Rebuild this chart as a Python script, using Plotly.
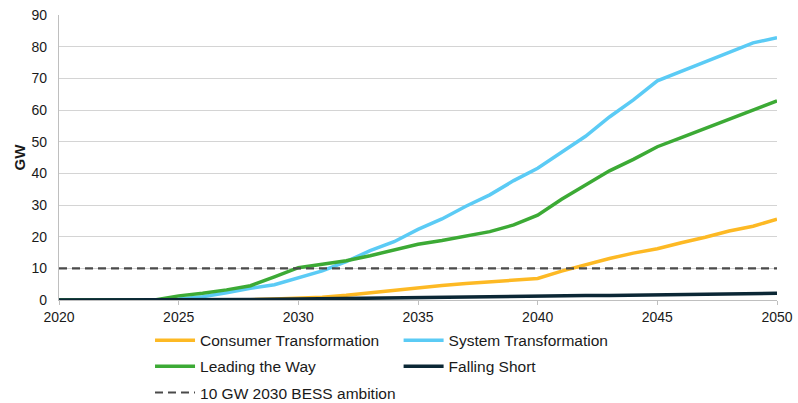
import plotly.graph_objects as go

years = list(range(2020, 2051))
consumer = [0, 0, 0, 0, 0, 0, 0, 0, 0.1, 0.3, 0.6, 0.9, 1.5, 2.3, 3.1, 3.9, 4.6, 5.2, 5.7, 6.1,
            6.8, 9.1, 11.2, 13.1, 14.8, 16.2, 18.1, 19.8, 21.8, 23.3, 25.5]
system = [0, 0, 0, 0, 0, 0.3, 1.0, 2.3, 3.7, 4.8, 7.0, 9.2, 12.1, 15.6, 18.4, 22.3, 25.6, 29.6, 33.2, 37.7,
          41.6, 46.8, 51.7, 57.8, 63.2, 69.2, 72.2, 75.3, 78.2, 81.2, 82.8]
leading = [0, 0, 0, 0, 0, 1.3, 2.1, 3.2, 4.5, 7.3, 10.2, 11.3, 12.4, 14.0, 15.9, 17.6, 18.8, 20.1, 21.6, 23.7,
           26.8, 31.8, 36.3, 40.8, 44.4, 48.4, 51.3, 54.2, 57.2, 60.0, 62.9]
falling = [0, 0, 0, 0, 0, 0, 0, 0, 0, 0.2, 0.3, 0.4, 0.5, 0.6, 0.8, 0.9, 1.0, 1.0, 1.1, 1.2,
           1.2, 1.3, 1.4, 1.4, 1.5, 1.6, 1.7, 1.8, 1.9, 2.0, 2.1]
ambition_years = [2020, 2050]
ambition = [10, 10]
y_title = "GW"

names = ["Consumer Transformation", "System Transformation", "Leading the Way", "Falling Short"]
colors = ["#FDB924", "#5BCBF5", "#3CAA35", "#0B2735"]
series = [consumer, system, leading, falling]
legends = ["legend", "legend2", "legend", "legend2"]

FONT = "Liberation Sans, Arial, sans-serif"

fig = go.Figure()
for n, c, s, lg in zip(names, colors, series, legends):
    fig.add_trace(go.Scatter(x=years, y=s, mode="lines", name=n, legend=lg, legendgroup=n,
                             line=dict(color=c, width=3.5), hoverinfo="skip"))
fig.add_trace(go.Scatter(x=ambition_years, y=ambition, mode="lines", name="10 GW 2030 BESS ambition",
                         legend="legend", legendgroup="amb",
                         line=dict(color="#4a4a4a", width=2.2, dash="8px,5px"), hoverinfo="skip"))

legend_common = dict(orientation="v", xanchor="left", yanchor="top", xref="container", yref="container",
                     bgcolor="rgba(0,0,0,0)",
                     font=dict(family=FONT, size=15.5, color="#1a1a1a"), tracegroupgap=3,
                     itemwidth=40)

fig.update_layout(
    width=798, height=403,
    margin=dict(l=59, r=21, t=15, b=103, autoexpand=False),
    plot_bgcolor="white", paper_bgcolor="white",
    font=dict(family=FONT, size=14, color="#1a1a1a"),
    showlegend=True,
    legend=dict(x=0.188, y=0.197, **legend_common),
    legend2=dict(x=0.4995, y=0.197, **legend_common),
    xaxis=dict(range=[2020, 2050], dtick=5, tick0=2020, showgrid=False, zeroline=False,
               showline=True, linecolor="#bfbfbf", linewidth=1.3,
               ticks="outside", ticklen=4, tickcolor="#bfbfbf", tickwidth=1.3,
               tickfont=dict(family=FONT, size=14, color="#1a1a1a")),
    yaxis=dict(range=[0, 90], dtick=10, showgrid=True, gridcolor="#d4d4d4", gridwidth=1.3,
               zeroline=False, showline=True, linecolor="#bfbfbf", linewidth=1.3,
               ticks="", ticklabelstandoff=8,
               tickfont=dict(family=FONT, size=14, color="#1a1a1a")),
    annotations=[dict(text="<b>" + y_title + "</b>", xref="paper", yref="paper", x=-0.0557, y=0.5,
                      xanchor="center", yanchor="middle", textangle=-90, showarrow=False,
                      font=dict(family=FONT, size=15, color="#1a1a1a"))],
)

fig.write_html("out.html")
